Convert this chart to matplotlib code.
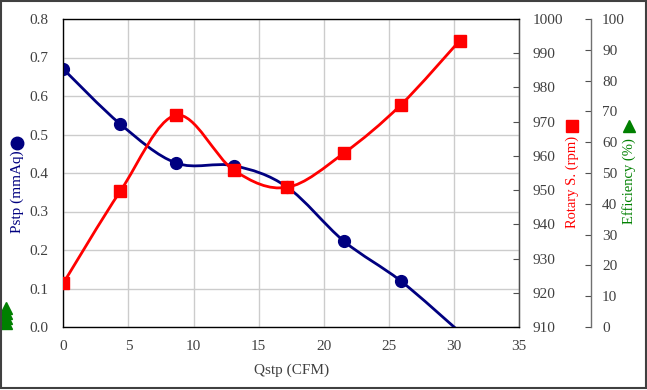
import matplotlib
matplotlib.use("Agg")
import matplotlib.pyplot as plt
from matplotlib.path import Path
from matplotlib.patches import PathPatch, Rectangle
from matplotlib.lines import Line2D
import numpy as np

# ---- data ----
qstp = [0.0, 4.38, 8.66, 13.1, 17.17, 21.55, 25.9, 30.45]
pstp = [0.670, 0.527, 0.426, 0.419, 0.364, 0.223, 0.120, -0.013]
rpm = [922.8, 949.7, 971.9, 955.8, 950.8, 960.8, 974.8, 993.7]
eff_x = [-4.4, -4.4, -4.4, -4.4]
eff = [1.3, 2.9, 4.5, 6.2]

x_ticks = [0, 5, 10, 15, 20, 25, 30, 35]
p_ticks = [0.0, 0.1, 0.2, 0.3, 0.4, 0.5, 0.6, 0.7, 0.8]
r_ticks = [910, 920, 930, 940, 950, 960, 970, 980, 990, 1000]
e_ticks = [0, 10, 20, 30, 40, 50, 60, 70, 80, 90, 100]

FONT = "Liberation Serif"
plt.rcParams["font.family"] = [FONT, "DejaVu Serif"]
TXT = "#404040"

fig = plt.figure(figsize=(6.47, 3.90), dpi=100)
fig.patch.set_facecolor("white")
L, R, B, T = 63.3 / 647, 519 / 647, (390 - 327) / 390, (390 - 19) / 390
ax = fig.add_axes([L, B, R - L, T - B])
ax2 = ax.twinx()
ax3 = ax.twinx()


def smooth_path(xs, ys):
    pts = np.column_stack([xs, ys])
    n = len(pts)
    verts = [pts[0]]
    codes = [Path.MOVETO]
    for i in range(n - 1):
        p0 = pts[i - 1] if i > 0 else pts[i]
        p1 = pts[i]
        p2 = pts[i + 1]
        p3 = pts[i + 2] if i + 2 < n else pts[i + 1]
        c1 = p1 + (p2 - p0) / 6.0
        c2 = p2 - (p3 - p1) / 6.0
        verts += [c1, c2, p2]
        codes += [Path.CURVE4] * 3
    return Path(verts, codes)


# grid / axes
ax.set_xlim(0, 35)
ax.set_ylim(0, 0.8)
ax.set_xticks(x_ticks)
ax.set_yticks(p_ticks)
ax.set_yticklabels([f"{v:.1f}" for v in p_ticks])
ax.grid(True, color="#cccccc", linewidth=1.0)
ax.set_axisbelow(True)
ax.tick_params(axis="y", length=0, labelsize=11, labelcolor=TXT, pad=11)
ax.tick_params(axis="x", length=0, labelsize=11, labelcolor=TXT, pad=9)
for s in ["left", "bottom", "top", "right"]:
    ax.spines[s].set_color("#505050")
    ax.spines[s].set_linewidth(1.0)

ax2.set_ylim(910, 1000)
ax2.set_yticks(r_ticks)
ax2.tick_params(axis="y", direction="in", length=4, color="#505050",
                labelsize=11, labelcolor=TXT, pad=10)
ax2.spines["right"].set_color("#505050")

ax3.set_ylim(0, 100)
ax3.set_yticks(e_ticks)
ax3.spines["right"].set_position(("axes", 1.158))
ax3.spines["right"].set_color("#707070")
ax3.spines["right"].set_linewidth(1.0)
for s in ["left", "top", "bottom"]:
    ax3.spines[s].set_visible(False)
ax3.tick_params(axis="y", direction="in", length=4, color="#505050",
                labelsize=11, labelcolor=TXT, pad=8)

# Pstp line
pp = PathPatch(smooth_path(qstp, pstp), facecolor="none", edgecolor="#000080",
               linewidth=2.0, transform=ax.transData, zorder=3)
ax.add_patch(pp)
vis = [i for i, v in enumerate(pstp) if v >= 0]
ax.plot(qstp, pstp, linestyle="none", marker="o", markersize=8.5,
        color="#000080", markevery=vis, zorder=4)

# rpm line
rp = PathPatch(smooth_path(qstp, rpm), facecolor="none", edgecolor="#ff0000",
               linewidth=2.0, transform=ax2.transData, zorder=3)
ax2.add_patch(rp)
ax2.plot(qstp, rpm, linestyle="none", marker="s", markersize=8.5,
         color="#ff0000", zorder=4)

# efficiency markers (outside plot, at left edge)
ax3.set_xlim(0, 35)
ax3.plot(eff_x, eff, linestyle="none", marker="^", markersize=9,
         color="#008000", clip_on=False, zorder=5)

# axis labels
ax.set_xlabel("Qstp (CFM)", fontsize=11, color=TXT, labelpad=8)
fig.text(17 / 647, 1 - 192 / 390, "Pstp (mmAq)", rotation=90, ha="center",
         va="center", color="#000080", fontsize=11)
fig.text(572 / 647, 1 - 182 / 390, "Rotary S. (rpm)", rotation=90, ha="center",
         va="center", color="#ff0000", fontsize=10.5)
fig.text(629 / 647, 1 - 181 / 390, "Efficiency (%)", rotation=90, ha="center",
         va="center", color="#008000", fontsize=10.5)
fig.add_artist(Line2D([17 / 647], [1 - 143 / 390], marker="o", markersize=9,
                      color="#000080", linestyle="none", transform=fig.transFigure))
fig.add_artist(Line2D([572 / 647], [1 - 126 / 390], marker="s", markersize=9,
                      color="#ff0000", linestyle="none", transform=fig.transFigure))
fig.add_artist(Line2D([629 / 647], [1 - 126 / 390], marker="^", markersize=9,
                      color="#008000", linestyle="none", transform=fig.transFigure))

# outer border
fig.add_artist(Rectangle((0.001, 0.004), 0.997, 0.994, transform=fig.transFigure,
                         facecolor="none", edgecolor="#404040", linewidth=1.5))

fig.savefig("out.png", dpi=100, facecolor="white")
